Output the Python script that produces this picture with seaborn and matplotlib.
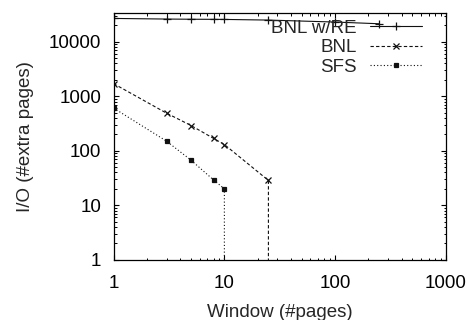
import matplotlib
matplotlib.use("Agg")
import matplotlib.pyplot as plt
import seaborn as sns
import pandas as pd

# Window sizes (#pages) and extra-page I/O for each algorithm
bnl_re_window = [1, 3, 5, 8, 10, 25, 100, 250]
bnl_re_io = [26800, 26100, 25900, 25800, 25700, 25000, 23000, 21400]

bnl_window = [1, 3, 5, 8, 10, 25, 25]
bnl_io = [1700, 490, 290, 168, 130, 28.5, 0]

sfs_window = [1, 3, 5, 8, 10, 10]
sfs_io = [605, 150, 67, 29, 20, 0]

sns.set_theme(style="ticks")
plt.rcParams["font.family"] = ["Liberation Sans", "DejaVu Sans"]
plt.rcParams["font.size"] = 13.5

fig = plt.figure(figsize=(4.67, 3.2), dpi=100)
ax = fig.add_axes([0.2435, 0.1884, 0.9544 - 0.2435, 0.960 - 0.1884])

series = [
    ("BNL w/RE", bnl_re_window, bnl_re_io, "-", "+", 6, "#111111"),
    ("BNL", bnl_window, bnl_io, (0, (3, 2)), "x", 4.5, "#111111"),
    ("SFS", sfs_window, sfs_io, (0, (1, 2)), "s", 3.2, "#111111"),
]
for name, xs, ys, ls, mk, ms, col in series:
    df = pd.DataFrame({"window": xs, "io": ys})
    sns.lineplot(data=df, x="window", y="io", ax=ax, estimator=None, sort=False,
                 color=col, linewidth=0.8, linestyle=ls, marker=mk, markersize=ms,
                 markeredgewidth=0.9, markeredgecolor=col, markerfacecolor=col,
                 label=name)

ax.set_xscale("log")
ax.set_yscale("log")
ax.set_xlim(1, 1000)
ax.set_ylim(1, 34000)
ax.set_xticks([1, 10, 100, 1000])
ax.set_xticklabels(["1", "10", "100", "1000"])
ax.set_yticks([1, 10, 100, 1000, 10000])
ax.set_yticklabels(["1", "10", "100", "1000", "10000"])

ax.tick_params(which="both", direction="in", top=True, right=True, colors="black")
ax.tick_params(which="major", length=3.3, width=0.8, labelsize=13.5)
ax.tick_params(axis="x", which="major", pad=11)
ax.tick_params(axis="y", which="major", pad=9)
ax.tick_params(which="minor", length=1.8, width=0.7)
for sp in ax.spines.values():
    sp.set_linewidth(0.9)
    sp.set_color("black")

ax.set_xlabel("Window (#pages)", fontsize=13.5, labelpad=9)
ax.set_ylabel("I/O (#extra pages)", fontsize=13.5, labelpad=11)

leg = ax.legend(loc="upper right", bbox_to_anchor=(0.9286, 0.973),
                frameon=False, markerfirst=False, borderpad=0, borderaxespad=0,
                handlelength=2.75, handletextpad=0.75, labelspacing=0.13,
                fontsize=13.5)

fig.savefig("out.png", dpi=100)
